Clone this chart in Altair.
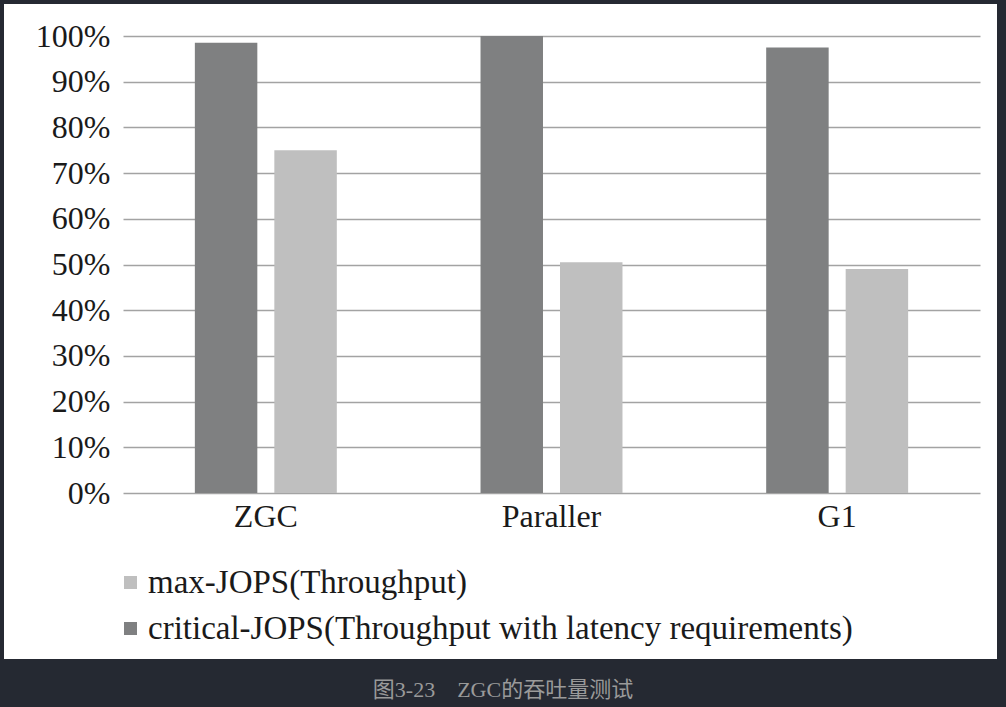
import altair as alt
import pandas as pd

categories = ["ZGC", "Paraller", "G1"]
series_names = ["max-JOPS(Throughput)", "critical-JOPS(Throughput with latency requirements)"]
max_jops = [0.75, 0.505, 0.49]
critical_jops = [0.985, 1.0, 0.975]
y_ticks = [0, 0.1, 0.2, 0.3, 0.4, 0.5, 0.6, 0.7, 0.8, 0.9, 1.0]
caption = "图3-23\u3000ZGC的吞吐量测试"

rows = []
for c, m, cr in zip(categories, max_jops, critical_jops):
    rows.append({"cat": c, "series": series_names[0], "value": m})
    rows.append({"cat": c, "series": series_names[1], "value": cr})
df = pd.DataFrame(rows)

DARK = "#252932"
SERIF = "Liberation Serif, Times New Roman, serif"

bars = alt.Chart(df).mark_bar().encode(
    x=alt.X("cat:N", sort=categories,
            scale=alt.Scale(paddingInner=0, paddingOuter=0),
            axis=alt.Axis(title=None, domain=False, ticks=False, grid=False, labelAngle=0,
                          labelFontSize=32, labelFont=SERIF, labelColor="#1a1a1a",
                          labelPadding=8)),
    xOffset=alt.XOffset("series:N", sort=[series_names[1], series_names[0]],
                        scale=alt.Scale(paddingInner=0.214, paddingOuter=0.904)),
    y=alt.Y("value:Q", scale=alt.Scale(domain=[0, 1], nice=False),
            axis=alt.Axis(title=None, domain=False, ticks=False, grid=True,
                          gridColor="#a3a3a3", gridWidth=1.5, values=y_ticks,
                          format=".0%", labelFontSize=32, labelFont=SERIF,
                          labelColor="#1a1a1a", labelPadding=13)),
    color=alt.Color("series:N",
                    scale=alt.Scale(domain=series_names, range=["#bfbfbf", "#7f8081"]),
                    legend=alt.Legend(title=None, orient="none", legendX=-9, legendY=530,
                                      symbolType="square", symbolSize=169,
                                      symbolStrokeWidth=0, labelFontSize=33,
                                      labelFont=SERIF, labelColor="#1a1a1a",
                                      labelLimit=900, labelOffset=1, rowPadding=12)),
)

one = alt.Data(values=[{"a": 1}])

def strip(x1, x2, y1, y2):
    return alt.Chart(one).mark_rect(color=DARK).encode(
        x=alt.value(x1), x2=alt.value(x2), y=alt.value(y1), y2=alt.value(y2))

frame = [
    strip(-123, -119, -36, 671),
    strip(-123, 883, -36, -32),
    strip(874, 883, -36, 671),
    strip(-123, 883, 623, 671),
]

cap = alt.Chart(alt.Data(values=[{"t": caption}])).mark_text(
    font="Liberation Serif, Noto Sans CJK SC", fontSize=22, color="#9a9a9a",
    align="center", baseline="middle"
).encode(x=alt.value(380), y=alt.value(654), text="t:N")

chart = alt.layer(bars, *frame, cap).properties(
    width=857, height=457,
    autosize=alt.AutoSizeParams(type="none"),
    padding={"left": 123, "top": 36, "right": 26, "bottom": 214},
    background="white",
).configure_view(stroke="transparent")

chart.save("out.html", embed_options={"renderer": "svg", "actions": False})
